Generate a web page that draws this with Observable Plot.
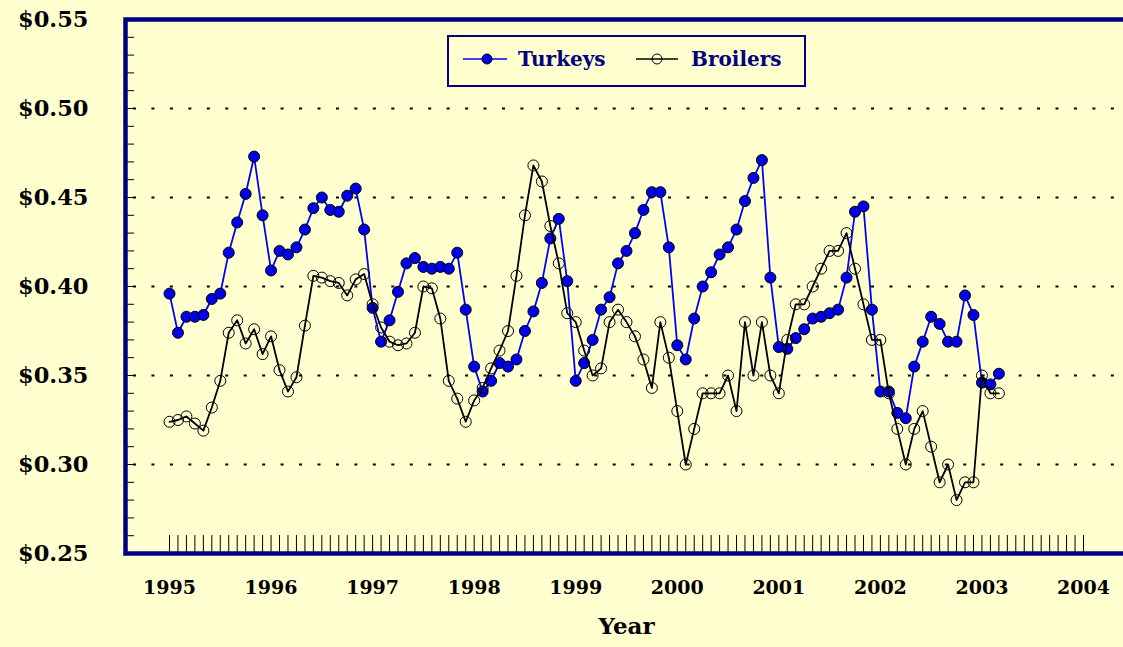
<!DOCTYPE html>
<html><head><meta charset="utf-8">
<script src="https://cdn.jsdelivr.net/npm/d3@7"></script>
<script src="https://cdn.jsdelivr.net/npm/@observablehq/plot@0.6"></script>
<style>
body{margin:0;background:#FFFFD0;}
#wrap{position:relative;width:1123px;height:647px;overflow:hidden;background:#FFFFD0;}
#legend{position:absolute;left:447px;top:35px;}
</style></head><body><div id="wrap"></div>
<script>
const startYear = 1995;
const seriesNames = ["Turkeys", "Broilers"];
const turkeys = [0.396,0.374,0.383,0.383,0.384,0.393,0.396,0.419,0.436,0.452,0.473,0.440,
0.409,0.420,0.418,0.422,0.432,0.444,0.450,0.443,0.442,0.451,0.455,0.432,
0.388,0.369,0.381,0.397,0.413,0.416,0.411,0.410,0.411,0.410,0.419,0.387,
0.355,0.341,0.347,0.357,0.355,0.359,0.375,0.386,0.402,0.427,0.438,0.403,
0.347,0.357,0.370,0.387,0.394,0.413,0.420,0.430,0.443,0.453,0.453,0.422,
0.367,0.359,0.382,0.400,0.408,0.418,0.422,0.432,0.448,0.461,0.471,0.405,
0.366,0.365,0.371,0.376,0.382,0.383,0.385,0.387,0.405,0.442,0.445,0.387,
0.341,0.341,0.329,0.326,0.355,0.369,0.383,0.379,0.369,0.369,0.395,0.384,
0.346,0.345,0.351];
const broilers = [0.324,0.325,0.327,0.323,0.319,0.332,0.347,0.374,0.381,0.368,0.376,0.362,
0.372,0.353,0.341,0.349,0.378,0.406,0.405,0.403,0.402,0.395,0.404,0.407,
0.390,0.377,0.369,0.367,0.368,0.374,0.400,0.399,0.382,0.347,0.337,0.324,
0.336,0.343,0.354,0.364,0.375,0.406,0.440,0.468,0.459,0.434,0.413,0.385,
0.380,0.364,0.350,0.354,0.380,0.387,0.380,0.372,0.359,0.343,0.380,0.360,
0.330,0.300,0.320,0.340,0.340,0.340,0.350,0.330,0.380,0.350,0.380,0.350,
0.340,0.370,0.390,0.390,0.400,0.410,0.420,0.420,0.430,0.410,0.390,0.370,
0.370,0.340,0.320,0.300,0.320,0.330,0.310,0.290,0.300,0.280,0.290,0.290,
0.350,0.340,0.340];
const yTicks = [0.25,0.30,0.35,0.40,0.45,0.50,0.55];
const gridY = [0.30,0.35,0.40,0.45,0.50];
const yearTicks = [1995,1996,1997,1998,1999,2000,2001,2002,2003,2004];

const toRows = vals => vals.map((v,i) => ({t: startYear + i/12, v}));
const turkeyRows = toRows(turkeys);
const broilerRows = toRows(broilers);
const months = d3.range(0, 109).map(i => startYear + i/12);
const minorY = d3.range(26, 55).map(k => k/100);

const W = 1123, H = 647, mL = 125, mR = -4, mT = 19, mB = 94;
const frameW = W - mL - mR, frameH = H - mT - mB;
const navy = "#000080";
const font = "DejaVu Serif";

const chart = Plot.plot({
  width: W, height: H,
  marginLeft: mL, marginRight: mR, marginTop: mT, marginBottom: mB,
  style: {background: "#FFFFD0", fontFamily: font, fontWeight: "bold", color: "black", overflow: "visible"},
  x: {domain: [1995, 2004], range: [169, 1083]},
  y: {domain: [0.25, 0.55]},
  marks: [
    Plot.ruleY(gridY, {stroke: "black", strokeWidth: 2, strokeDasharray: "3,15.45", insetLeft: 8}),
    Plot.tickY(minorY, {y: d => d, stroke: "black", insetRight: frameW - 9}),
    Plot.tickX(months, {x: d => d, stroke: "black", insetTop: frameH - 18}),
    Plot.axisY({ticks: yTicks, tickSize: 0, tickPadding: 37, tickFormat: d => "$" + d.toFixed(2), fontSize: 22.5, label: null}),
    Plot.axisX({ticks: yearTicks, tickSize: 0, tickPadding: 27, tickFormat: d => String(d), fontSize: 19, label: null}),
    Plot.text(["Year"], {frameAnchor: "bottom", dy: 80, fontSize: 23, fontWeight: "bold", fill: "black"}),
    Plot.line(turkeyRows, {x: "t", y: "v", stroke: "#0000ff", strokeWidth: 1.8}),
    Plot.dot(turkeyRows, {x: "t", y: "v", r: 5.5, fill: "#0000e6", stroke: "black", strokeWidth: 1}),
    Plot.line(broilerRows, {x: "t", y: "v", stroke: "black", strokeWidth: 1.8}),
    Plot.dot(broilerRows, {x: "t", y: "v", r: 5.5, fill: "none", stroke: "black", strokeWidth: 1}),
    Plot.frame({stroke: navy, strokeWidth: 4.5})
  ]
});
const wrap = document.getElementById("wrap");
wrap.appendChild(chart);

// legend
const leg = d3.create("svg").attr("id", "legend").attr("width", 359).attr("height", 52)
  .style("font-family", font).style("font-weight", "bold");
leg.append("rect").attr("x", 1).attr("y", 1).attr("width", 357).attr("height", 50)
  .attr("fill", "none").attr("stroke", navy).attr("stroke-width", 2);
const items = [
  {name: seriesNames[0], x0: 16, x1: 60, cx: 40, tx: 71, line: "#0000ff", fill: "#0000e6"},
  {name: seriesNames[1], x0: 189, x1: 231, cx: 210, tx: 244, line: "black", fill: "none"}
];
for (const it of items) {
  leg.append("line").attr("x1", it.x0).attr("x2", it.x1).attr("y1", 24).attr("y2", 24)
    .attr("stroke", it.line).attr("stroke-width", 1.5);
  leg.append("circle").attr("cx", it.cx).attr("cy", 24).attr("r", 5)
    .attr("fill", it.fill).attr("stroke", "black").attr("stroke-width", 1);
  leg.append("text").attr("x", it.tx).attr("y", 24).attr("dy", "0.35em")
    .attr("font-size", 20).attr("fill", navy).text(it.name);
}
wrap.appendChild(leg.node());
</script>
</body></html>
